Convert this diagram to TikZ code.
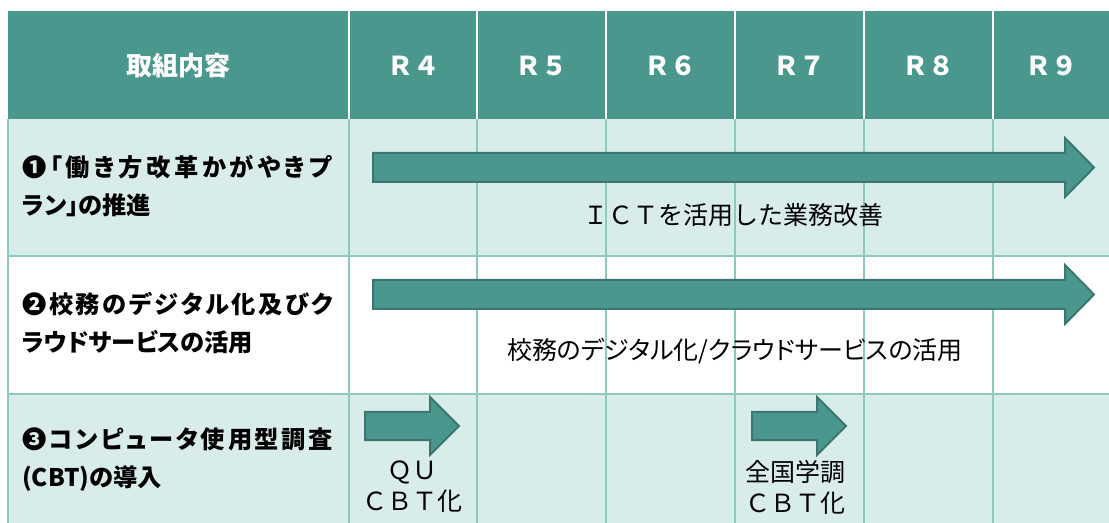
\documentclass[tikz,border=0pt]{standalone}
\usepackage{fontspec}
\newfontfamily\jp{Noto Sans CJK JP}
\newfontfamily\jpp[RawFeature=+palt]{Noto Sans CJK JP}
\ExplSyntaxOn
\NewDocumentCommand\distrib{mm}{\hbox_to_wd:nn{#1}{\tl_map_inline:nn{#2}{##1\hfil}\unskip}}
\ExplSyntaxOff
\definecolor{head}{HTML}{4A978E}
\definecolor{lite}{HTML}{D8ECE9}
\definecolor{gridc}{HTML}{8CC9BF}
\definecolor{arrfill}{HTML}{4A978E}
\definecolor{arrline}{HTML}{3B7770}
\begin{document}
\begin{tikzpicture}[x=0.75pt,y=-0.75pt,
  hdr/.style={text=white,inner sep=0,font=\jp\bfseries\fontsize{19.5pt}{24pt}\selectfont},
  lbl/.style={anchor=west,align=left,inner sep=0,font=\jpp\bfseries\fontsize{18.2pt}{28.5pt}\selectfont},
  body/.style={inner sep=0,font=\jp\fontsize{18.75pt}{23.25pt}\selectfont},
  bodyp/.style={inner sep=0,font=\jpp\fontsize{18.75pt}{23.25pt}\selectfont},
  gline/.style={draw=gridc,line width=1.5pt},
  hsep/.style={draw=white,line width=1.5pt},
  bigarrow/.style={fill=arrfill,draw=arrline,line width=1.5pt,line join=miter}]
\useasboundingbox (0,0) rectangle (1109,523);
\fill[white] (0,0) rectangle (1109,523);
\fill[head] (8,11) rectangle (1109,119);
\fill[lite] (8,119) rectangle (1109,256);
\fill[lite] (8,394) rectangle (1109,523);
\foreach \x in {349,477,606,735,864,993}{
  \path[hsep] (\x,11) -- (\x,119);
  \path[gline] (\x,119) -- (\x,523);}
\path[gline] (8,119) -- (8,523);
\path[gline] (8,256) -- (1109,256);
\path[gline] (8,394) -- (1109,394);
% header
\node[hdr] (h0) at (178,66) {取組内容};
\node[hdr] (h4) at (413,66) {Ｒ４};
\node[hdr] (h5) at (541.5,66) {Ｒ５};
\node[hdr] (h6) at (670.5,66) {Ｒ６};
\node[hdr] (h7) at (799.5,66) {Ｒ７};
\node[hdr] (h8) at (928.5,66) {Ｒ８};
\node[hdr] (h9) at (1051,66) {Ｒ９};
% arrows
\draw[bigarrow] (373,153) -- (1065,153) -- (1065,138) -- (1094,167.5) -- (1065,197) -- (1065,182) -- (373,182) -- cycle;
\draw[bigarrow] (373,280) -- (1065,280) -- (1065,265) -- (1094,294.5) -- (1065,324) -- (1065,309) -- (373,309) -- cycle;
\draw[bigarrow] (365,412) -- (430,412) -- (430,397) -- (459,426) -- (430,455) -- (430,440) -- (365,440) -- cycle;
\draw[bigarrow] (752,412) -- (817,412) -- (817,397) -- (846,426) -- (817,455) -- (817,440) -- (752,440) -- cycle;
% row labels
\node[lbl] (l1) at (22,186) {\distrib{231.75pt}{❶「働き方改革かがやきプ}\\ラン」の推進};
\node[lbl] (l2) at (22,323) {\distrib{233.25pt}{❷校務のデジタル化及びク}\\ラウドサービスの活用};
\node[lbl] (l3) at (22,460) {\distrib{233.25pt}{❸コンピュータ使用型調査}\\(CBT)の導入};
% body texts
\node[body] (t1) at (733,215) {ＩＣＴを活用した業務改善};
\node[bodyp] (t2) at (735,351) {校務のデジタル化/クラウドサービスの活用};
\node[body,align=center] (t3) at (412,487) {ＱＵ\\ＣＢＴ化};
\node[body,align=center] (t4) at (795,487) {全国学調\\ＣＢＴ化};
\end{tikzpicture}
\end{document}
